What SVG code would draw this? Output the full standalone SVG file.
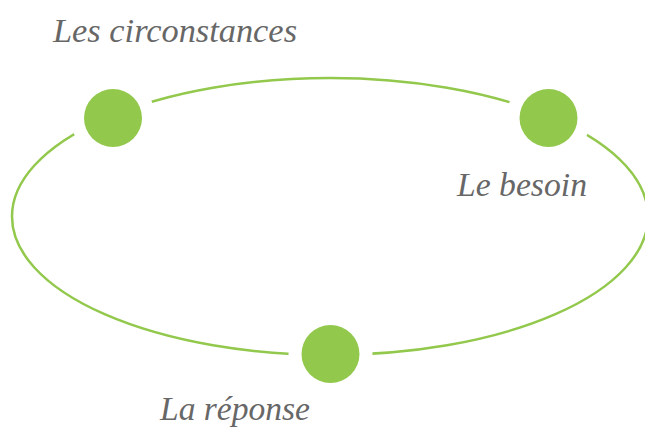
<svg xmlns="http://www.w3.org/2000/svg" width="645" height="429" viewBox="0 0 645 429">
<style>
.lbl{font-family:"Liberation Serif","DejaVu Serif",serif;font-style:italic;font-size:34px;fill:#676767}
.node{fill:#92C84B;stroke:#ffffff;stroke-width:26;paint-order:stroke}
.ring{fill:none;stroke:#92C84B;stroke-width:2.5}
</style>
<rect width="645" height="429" fill="#ffffff"/>
<g id="connectors">
<ellipse class="ring" cx="330" cy="216.5" rx="318" ry="138.5"/>
</g>
<g id="node-circonstances">
<circle class="node" cx="113" cy="118" r="29"/>
<text class="lbl" x="53" y="42" textLength="244" lengthAdjust="spacingAndGlyphs">Les circonstances</text>
</g>
<g id="node-besoin">
<circle class="node" cx="548.5" cy="118" r="29"/>
<text class="lbl" x="457" y="196" textLength="130" lengthAdjust="spacingAndGlyphs">Le besoin</text>
</g>
<g id="node-reponse">
<circle class="node" cx="330.5" cy="354" r="29"/>
<text class="lbl" x="160" y="420" textLength="150" lengthAdjust="spacingAndGlyphs">La réponse</text>
</g>
</svg>
